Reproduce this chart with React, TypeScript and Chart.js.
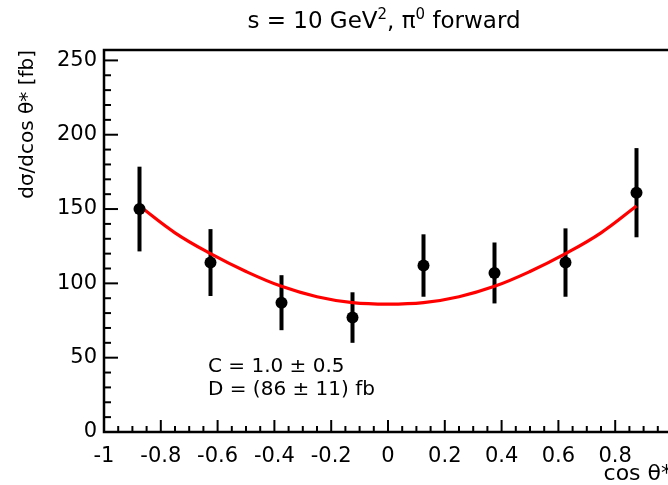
import React, { useEffect, useRef } from "react";
import { Chart, registerables } from "chart.js";

Chart.register(...registerables);

// ---- data ----
const binCenters = [-0.875, -0.625, -0.375, -0.125, 0.125, 0.375, 0.625, 0.875];
const crossSection = [150, 114, 87, 77, 112, 107, 114, 161];
const crossSectionErr = [28.5, 22.5, 18.5, 17, 21, 20.5, 23, 30];

const fitCos = [-0.875, -0.75, -0.625, -0.5, -0.375, -0.25, -0.125, 0, 0.125, 0.25, 0.375, 0.5, 0.625, 0.75, 0.875];
const fitValues = [152, 134, 120, 108, 98, 91, 87, 86, 87, 91, 98, 108, 120, 134, 152];

const xTickValues = [-1, -0.8, -0.6, -0.4, -0.2, 0, 0.2, 0.4, 0.6, 0.8, 1];
const yTickValues = [0, 50, 100, 150, 200, 250];
const X_MIN = -1;
const X_MAX = 1;
const Y_MIN = 0;
const Y_MAX = 257;

const xTitle = "cos θ*";
const yTitle = "dσ/dcos θ* [fb]";
const fitLines = ["C = 1.0 ± 0.5", "D = (86 ± 11) fb"];
// title pieces: [text, superscript?]
const titleParts: [string, boolean][] = [
  ["s = 10 GeV", false],
  ["2", true],
  [", π", false],
  ["0", true],
  [" forward", false],
];

const FONT = "'DejaVu Sans', sans-serif";

const rootStylePlugin = {
  id: "rootStyle",
  beforeDatasetsDraw(chart: any) {
    const ctx = chart.ctx;
    const xs = chart.scales.x;
    const ys = chart.scales.y;
    ctx.save();
    ctx.strokeStyle = "#000";
    ctx.lineWidth = 4;
    ctx.lineCap = "butt";
    binCenters.forEach((c, i) => {
      const px = xs.getPixelForValue(c);
      const y1 = ys.getPixelForValue(crossSection[i] - crossSectionErr[i]);
      const y2 = ys.getPixelForValue(crossSection[i] + crossSectionErr[i]);
      ctx.beginPath();
      ctx.moveTo(px, y1);
      ctx.lineTo(px, y2);
      ctx.stroke();
    });
    ctx.restore();
  },
  afterDraw(chart: any) {
    const ctx = chart.ctx;
    const xs = chart.scales.x;
    const ys = chart.scales.y;
    const { left, right, top, bottom } = chart.chartArea;
    ctx.save();
    ctx.strokeStyle = "#000";
    // frame
    ctx.lineWidth = 2.5;
    ctx.beginPath();
    ctx.moveTo(right, top);
    ctx.lineTo(left, top);
    ctx.lineTo(left, bottom);
    ctx.lineTo(right, bottom);
    ctx.lineTo(right, top);
    ctx.stroke();
    // y ticks (inside)
    ctx.lineWidth = 2;
    for (let v = Y_MIN; v <= Y_MAX; v += 10) {
      const py = ys.getPixelForValue(v);
      const major = v % 50 === 0;
      ctx.beginPath();
      ctx.moveTo(left, py);
      ctx.lineTo(left + (major ? 14 : 7), py);
      ctx.stroke();
    }
    // x ticks (inside)
    for (let k = 0; k <= 40; k++) {
      const v = X_MIN + k * 0.05;
      const px = xs.getPixelForValue(v);
      const major = k % 4 === 0;
      ctx.beginPath();
      ctx.moveTo(px, bottom);
      ctx.lineTo(px, bottom - (major ? 12 : 6));
      ctx.stroke();
    }
    // title
    ctx.fillStyle = "#000";
    ctx.textBaseline = "alphabetic";
    ctx.textAlign = "left";
    const big = `23px ${FONT}`;
    const small = `15px ${FONT}`;
    let total = 0;
    titleParts.forEach(([t, sup]) => {
      ctx.font = sup ? small : big;
      total += ctx.measureText(t).width;
    });
    let tx = 384 - total / 2;
    titleParts.forEach(([t, sup]) => {
      ctx.font = sup ? small : big;
      ctx.fillText(t, tx, sup ? 19 : 28);
      tx += ctx.measureText(t).width;
    });
    // fit result text
    ctx.font = `20px ${FONT}`;
    ctx.fillText(fitLines[0], 208, 372);
    ctx.fillText(fitLines[1], 208, 395);
    ctx.restore();
  },
};

export default function App() {
  const ref = useRef<HTMLCanvasElement | null>(null);
  useEffect(() => {
    if (!ref.current) return;
    const chart = new Chart(ref.current, {
      type: "scatter",
      data: {
        datasets: [
          {
            type: "line",
            label: "fit",
            data: fitCos.map((x, i) => ({ x, y: fitValues[i] })),
            borderColor: "rgb(255,0,0)",
            borderWidth: 3.2,
            pointRadius: 0,
            tension: 0.4,
            fill: false,
            order: 2,
          } as any,
          {
            label: "data",
            data: binCenters.map((x, i) => ({ x, y: crossSection[i] })),
            backgroundColor: "#000",
            borderColor: "#000",
            pointRadius: 6,
            borderWidth: 0,
            order: 1,
          },
        ],
      },
      options: {
        responsive: false,
        animation: false,
        layout: { padding: { top: 50, right: 28, left: 0, bottom: 0 } },
        plugins: {
          legend: { display: false },
          tooltip: { enabled: false },
          title: { display: false },
        },
        scales: {
          x: {
            type: "linear",
            min: X_MIN,
            max: X_MAX,
            border: { display: false },
            grid: { display: false, drawTicks: false },
            afterBuildTicks: (s: any) => {
              s.ticks = xTickValues.map((v) => ({ value: v }));
            },
            afterFit: (s: any) => {
              s.height = 53;
            },
            ticks: {
              color: "#000",
              font: { family: FONT, size: 21 },
              padding: 12,
              maxRotation: 0,
              autoSkip: false,
              // the label at +1 falls outside the visible window in the reference
              callback: (v: any) => (Number(v) >= X_MAX ? "" : String(Math.round(Number(v) * 10) / 10)),
            },
            title: {
              display: true,
              text: xTitle,
              align: "end",
              color: "#000",
              font: { family: FONT, size: 22, lineHeight: 1 },
              padding: { top: 0, bottom: 0 },
            },
          },
          y: {
            type: "linear",
            min: Y_MIN,
            max: Y_MAX,
            border: { display: false },
            grid: { display: false, drawTicks: false },
            afterBuildTicks: (s: any) => {
              s.ticks = yTickValues.map((v) => ({ value: v }));
            },
            afterFit: (s: any) => {
              s.width = 104;
            },
            ticks: {
              color: "#000",
              font: { family: FONT, size: 21 },
              padding: 7,
              autoSkip: false,
              callback: (v: any) => String(v),
            },
            title: {
              display: true,
              text: yTitle,
              align: "end",
              color: "#000",
              font: { family: FONT, size: 20, lineHeight: 1.2 },
              padding: { top: 16, bottom: 0 },
            },
          },
        },
      },
      plugins: [rootStylePlugin],
    });
    return () => chart.destroy();
  }, []);
  return (
    <div style={{ position: "fixed", left: 0, top: 0, width: 668, height: 485, overflow: "hidden", background: "#fff" }}>
      <canvas ref={ref} width={700} height={485} style={{ display: "block" }} />
    </div>
  );
}
